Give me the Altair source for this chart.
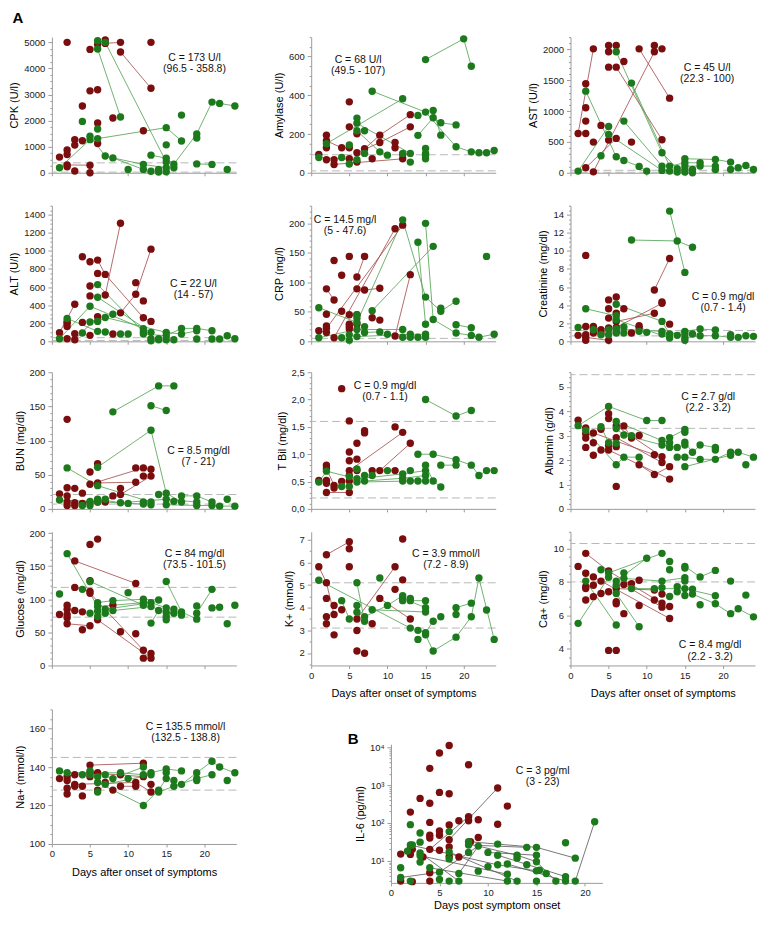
import altair as alt
import pandas as pd

# ------------------------------------------------------------------
# Values: (day, value)
# ------------------------------------------------------------------
CPK_RED = [(1,600),(2,5000),(2,870),(2,700),(2,300),(2,230),(3,1270),(3,1060),(3,70),(4,2560),(4,1230),
           (5,4730),(5,3140),(5,290),(5,0),(6,4920),(6,3180),(6,1910),(6,1120),(7,5090),(7,4960),(8,2100),
           (9,5000),(9,4630),(12,1610),(13,5000),(13,3240)]
CPK_GREEN = [(1,190),(4,1970),(5,1400),(5,1270),(6,5060),(6,4745),(6,1680),(6,1310),(7,5000),(7,640),(8,570),
             (9,2140),(10,130),(12,320),(12,130),(13,675),(13,60),(14,130),(14,30),(15,1730),(15,1070),(15,560),
             (15,410),(15,190),(15,40),(16,330),(16,190),(17,2210),(17,1220),(19,1490),(19,1335),(19,340),
             (21,2710),(21,320),(22,2660),(23,130),(24,2560)]
CPK_RED_LINES = [[(2,300),(5,290)],[(7,4960),(9,5000)],[(9,4630),(13,3240)]]
CPK_GREEN_LINES = [[(1,190),(5,1270)],[(6,5060),(7,5000),(15,410)],[(6,4745),(9,2140)],
                   [(6,1310),(15,1730),(17,1220)],[(5,1400),(7,640),(8,570),(12,130)],[(8,570),(12,320),(15,190)],
                   [(13,675),(15,560),(16,330),(19,1490),(21,2710),(22,2660),(24,2560)],[(19,340),(21,320)]]

AMY_RED = [(1,95),(2,194),(2,165),(2,129),(2,67),(3,67),(3,43),(4,129),(5,366),(5,237),(5,129),(5,72),(6,201),
           (6,103),(6,55),(7,124),(8,72),(9,194),(9,156),(11,156),(11,129),(12,95),(12,72),(13,300),(13,237)]
AMY_GREEN = [(1,79),(2,150),(4,79),(5,143),(5,45),(6,282),(6,256),(6,217),(6,67),(7,217),(7,100),(8,421),(9,108),
             (10,91),(12,382),(12,100),(13,100),(13,55),(14,296),(14,193),(15,584),(15,313),(15,125),(15,100),
             (15,91),(15,72),(16,321),(16,284),(17,258),(17,194),(19,247),(19,134),(20,691),(21,550),(21,108),
             (22,103),(23,103),(24,115)]
AMY_RED_LINES = [[(2,165),(4,129),(5,129)],[(3,43),(12,72)],[(7,124),(9,194),(13,300)],[(6,103),(9,156),(13,237)]]
AMY_GREEN_LINES = [[(2,150),(12,382)],[(8,421),(15,313),(19,134),(21,108),(22,103),(23,103),(24,115)],
                   [(15,584),(20,691),(21,550)],[(14,193),(16,284),(17,258),(19,247)],[(16,321),(17,194)],
                   [(6,256),(13,100)],[(6,217),(9,108),(10,91)],[(1,79),(6,67)]]

AST_RED = [(1,638),(2,1443),(2,1054),(2,838),(2,638),(2,81),(3,2010),(3,497),(3,15),(4,768),(5,2065),(5,1962),
           (5,1713),(5,530),(6,2065),(6,1713),(6,557),(7,1805),(8,497),(9,2010),(11,2065),(11,1962),(12,2010),
           (12,535),(13,1210)]
AST_GREEN = [(1,27),(2,1324),(4,276),(5,751),(5,622),(6,1962),(6,259),(7,838),(7,200),(8,1454),(9,103),(10,27),
             (12,324),(12,108),(12,38),(13,108),(13,27),(14,65),(14,11),(15,227),(15,162),(15,108),(15,54),(15,11),
             (16,54),(16,0),(17,162),(17,108),(19,216),(19,108),(19,54),(21,173),(21,54),(22,81),(23,119),(24,54)]
AST_RED_LINES = [[(1,638),(3,2010)],[(2,81),(6,557)],[(3,15),(11,1962)],[(6,1713),(12,535)],[(9,2010),(13,1210)]]
AST_GREEN_LINES = [[(1,27),(5,751)],[(2,1324),(6,259),(7,200),(9,103),(10,27)],[(5,622),(12,38)],
                   [(6,1962),(12,324),(14,65)],[(8,1454),(13,108),(15,162),(17,162)],[(7,838),(12,108)],
                   [(15,227),(19,216),(21,173)],[(15,108),(19,108)],[(21,54),(22,81),(23,119),(24,54)]]

ALT_RED = [(1,95),(2,220),(2,200),(2,165),(2,29),(3,410),(3,84),(3,18),(4,935),(4,209),(5,880),(5,612),(5,502),
           (5,66),(6,898),(6,751),(6,271),(7,740),(7,513),(8,81),(9,1305),(9,315),(11,649),(11,520),(12,447),
           (12,260),(13,1019),(13,220)]
ALT_GREEN = [(1,29),(2,253),(4,92),(5,388),(5,213),(6,627),(6,487),(6,220),(6,110),(7,264),(7,103),(8,300),(9,81),
             (10,81),(12,139),(12,106),(12,81),(13,99),(13,29),(13,7),(14,29),(14,18),(15,99),(15,62),(15,18),
             (16,18),(17,143),(17,81),(19,143),(19,117),(19,25),(21,117),(21,25),(22,25),(23,62),(24,29)]
ALT_RED_LINES = [[(1,95),(3,410)],[(3,18),(6,271)],[(7,513),(9,1305)],[(6,898),(7,740),(12,260),(13,220)],
                 [(9,315),(11,520),(13,1019)]]
ALT_GREEN_LINES = [[(1,29),(5,388),(12,139)],[(2,253),(6,110)],[(6,627),(12,106)],[(6,487),(13,99)],
                   [(7,264),(15,99),(17,81),(19,117)],[(12,81),(15,62),(17,143),(19,143),(21,117)],[(6,220),(8,300)]]

CRP_RED = [(1,18),(2,89),(2,46),(2,26),(2,22),(2,15),(3,137),(3,70),(3,6),(4,112),(4,51),(5,144),(5,45),(5,29),
           (5,25),(5,21),(6,109),(6,89),(6,45),(6,29),(7,144),(7,87),(8,40),(9,90),(9,36),(11,191),(11,9),
           (12,197),(13,113)]
CRP_GREEN = [(1,57),(1,6),(4,6),(5,11),(5,2),(6,45),(6,39),(6,32),(6,20),(6,8),(7,25),(7,15),(8,52),(9,16),(10,12),
             (12,206),(12,20),(12,7),(13,12),(13,7),(14,168),(14,7),(15,200),(15,75),(15,29),(15,12),(15,7),
             (16,161),(16,37),(17,56),(17,51),(19,68),(19,28),(19,14),(21,23),(21,10),(22,7),(23,144),(24,12)]
CRP_RED_LINES = [[(2,22),(12,197)],[(3,6),(11,191)],[(2,89),(3,70)],[(6,109),(7,144)],[(7,87),(9,90)],
                 [(11,9),(13,113)],[(1,18),(2,15)]]
CRP_GREEN_LINES = [[(1,57),(6,32)],[(6,32),(12,206),(15,75),(17,51),(19,68)],[(8,52),(16,161)],[(14,168),(15,29)],
                   [(15,200),(16,37),(19,14),(21,10),(22,7),(24,12)],[(19,28),(21,23)],[(1,6),(6,20),(12,20)],
                   [(6,8),(13,12),(15,12)],[(7,15),(9,16)]]

CRE_RED = [(1,0.66),(2,9.5),(2,1.65),(2,0.73),(2,0.44),(2,0.11),(3,1.65),(3,0.92),(4,1.28),(4,0.92),(5,4.58),
           (5,3.6),(5,2.57),(5,1.47),(5,0.11),(6,4.9),(6,3.1),(6,2.2),(6,1.54),(6,1.03),(7,3.6),(8,0.92),(9,1.72),
           (9,1.5),(11,5.68),(11,3.1),(12,4.36),(12,4.2),(13,9.16),(13,1.9)]
CRE_GREEN = [(1,1.54),(2,3.6),(3,1.28),(4,0.73),(5,1.28),(5,0.73),(6,4.1),(6,2.82),(6,2.38),(6,1.36),(6,0.92),
             (7,1.58),(7,0.92),(8,11.2),(9,1.1),(10,0.99),(12,2.2),(12,1.1),(12,0.81),(13,14.4),(13,0.81),(13,0.37),
             (14,11.1),(14,0.66),(15,7.62),(15,1.1),(15,0.81),(15,0.37),(15,0.11),(16,10.4),(16,0.81),(17,1.36),
             (17,0.62),(19,1.25),(19,0.62),(21,0.73),(21,0.44),(22,0.44),(23,0.62),(24,0.55)]
CRE_RED_LINES = [[(2,0.44),(5,0.11)],[(6,1.54),(12,4.2)],[(11,5.68),(13,9.16)],[(6,3.1),(7,3.6)],[(6,2.2),(11,3.1)]]
CRE_GREEN_LINES = [[(8,11.2),(14,11.1),(16,10.4)],[(13,14.4),(14,11.1),(15,7.62)],[(2,3.6),(6,2.82)],
                   [(6,4.1),(12,2.2),(13,0.81)],[(1,1.54),(6,1.36),(12,1.1)],[(6,2.38),(13,0.37)],
                   [(13,0.81),(15,1.1),(17,1.36),(19,1.25)],[(15,0.37),(17,0.62),(19,0.62),(21,0.44)],
                   [(14,0.66),(15,0.81)]]

BUN_RED = [(1,22),(2,131),(2,31),(2,19),(2,10),(2,5),(3,30),(3,9),(3,5),(4,23),(4,8),(5,54),(5,36),(5,9),(6,66),
           (6,38),(6,10),(7,10),(8,19),(9,30),(9,21),(11,60),(11,39),(12,60),(12,48),(13,58),(13,48)]
BUN_GREEN = [(1,13),(2,60),(4,5),(5,11),(5,5),(6,61),(6,34),(6,14),(6,10),(7,14),(8,142),(9,9),(10,8),(12,10),
             (12,7),(13,115),(13,10),(13,6),(13,151),(14,180),(14,21),(15,144),(15,23),(15,14),(15,6),(16,180),
             (16,11),(17,19),(17,10),(19,19),(19,10),(19,5),(21,10),(21,5),(22,4),(23,14),(24,4)]
BUN_RED_LINES = [[(5,36),(12,60)],[(6,10),(9,21),(13,48)],[(6,38),(11,39)]]
BUN_GREEN_LINES = [[(8,142),(14,180),(16,180)],[(13,151),(15,144)],[(6,61),(13,115),(15,23),(17,10)],
                   [(2,60),(6,34),(13,10)],[(1,13),(5,11),(12,7)],[(6,14),(9,9),(15,14),(19,10)],
                   [(15,6),(19,5),(21,5),(22,4),(24,4)],[(17,19),(19,19),(21,10)]]

TBIL_RED = [(1,0.52),(2,0.8),(2,0.74),(2,0.52),(2,0.47),(2,0.3),(3,0.43),(3,0.38),(4,2.2),(4,0.5),(5,1.61),
            (5,1.04),(5,0.88),(5,0.7),(5,0.61),(5,0.51),(5,0.3),(6,1.2),(6,0.91),(6,0.7),(7,1.43),(7,1.39),(8,0.7),
            (9,0.7),(11,1.5),(11,0.7),(12,1.4),(13,1.2)]
TBIL_GREEN = [(1,0.49),(2,0.69),(4,0.41),(5,0.59),(5,0.41),(6,0.73),(6,0.55),(6,0.49),(7,0.61),(7,0.51),(8,0.61),
              (10,0.7),(12,0.64),(12,0.56),(12,0.51),(13,0.7),(13,0.51),(14,1.0),(14,0.51),(15,2.0),(15,0.8),
              (15,0.7),(15,0.61),(15,0.51),(16,1.0),(16,0.51),(17,0.8),(17,0.4),(19,1.7),(19,0.9),(19,0.8),
              (21,1.8),(21,0.8),(22,0.61),(23,0.7),(24,0.7)]
TBIL_RED_LINES = [[(2,0.3),(5,0.3)],[(5,0.7),(12,1.4)],[(9,0.7),(13,1.2)],[(2,0.74),(3,0.43)]]
TBIL_GREEN_LINES = [[(15,2.0),(19,1.7),(21,1.8)],[(14,1.0),(16,1.0),(19,0.9),(21,0.8),(22,0.61),(23,0.7)],
                    [(17,0.8),(19,0.8)],[(1,0.49),(2,0.69),(6,0.55),(12,0.64),(15,0.7)],
                    [(6,0.49),(13,0.51),(15,0.51)],[(7,0.51),(12,0.56),(15,0.61)],[(15,0.8),(16,0.51),(17,0.4)]]

ALB_RED = [(1,3.63),(2,3.32),(2,3.08),(2,2.9),(2,2.52),(3,3.11),(3,2.71),(3,2.2),(4,3.26),(4,2.41),(5,3.9),(5,3.7),
           (5,2.6),(5,2.41),(6,3.4),(6,2.92),(6,2.55),(6,0.92),(7,3.4),(8,2.9),(9,3.01),(9,1.81),(11,2.22),
           (11,1.41),(12,2.14),(12,1.9),(13,1.73),(13,1.22)]
ALB_GREEN = [(1,3.41),(2,3.21),(4,3.37),(5,4.2),(5,2.71),(6,3.58),(6,3.29),(6,2.69),(6,1.81),(7,3.03),(7,2.12),
             (8,3.0),(9,2.12),(10,3.62),(12,3.62),(12,2.8),(12,2.62),(13,2.92),(13,2.71),(13,2.52),(14,2.52),
             (14,2.12),(15,3.25),(15,3.14),(15,2.73),(15,2.62),(15,2.12),(15,1.73),(16,2.32),(17,2.62),(17,2.03),
             (19,2.52),(19,2.41),(19,2.03),(21,2.32),(21,2.2),(22,2.32),(23,1.81),(24,2.12)]
ALB_RED_LINES = [[(3,3.11),(11,2.22)],[(6,3.4),(12,2.14)],[(6,2.92),(12,1.9)],[(9,1.81),(11,1.41),(13,1.73)],
                 [(5,2.41),(13,1.22)],[(7,3.4),(8,2.9)]]
ALB_GREEN_LINES = [[(1,3.41),(5,4.2),(10,3.62),(12,3.62)],[(2,3.21),(6,1.81),(7,2.12),(9,2.12)],
                   [(6,3.58),(12,2.8),(13,2.71)],[(6,3.29),(7,3.03),(12,2.62),(14,2.52)],[(13,2.92),(15,3.25)],
                   [(15,2.73),(16,2.32),(17,2.62),(19,2.52)],[(15,2.12),(17,2.03),(19,2.03),(21,2.32),(22,2.32),(24,2.12)],
                   [(15,1.73),(21,2.2)],[(4,3.37),(5,2.71)]]

GLU_RED = [(1,77),(2,91),(2,85),(2,77),(2,72),(2,63),(3,158),(3,118),(3,83),(4,81),(4,54),(5,183),(5,128),(5,112),
           (5,109),(5,60),(6,191),(6,69),(8,91),(9,51),(11,124),(11,48),(12,23),(12,11),(13,18),(13,11)]
GLU_GREEN = [(1,108),(2,169),(4,115),(5,127),(5,79),(6,95),(6,89),(6,82),(6,74),(7,85),(7,79),(8,98),(8,83),
             (10,110),(12,100),(12,95),(12,91),(13,95),(13,89),(13,64),(14,99),(14,83),(15,127),(15,87),(15,80),
             (15,74),(15,69),(16,85),(16,79),(17,81),(17,76),(19,90),(19,79),(19,70),(21,115),(21,87),(22,88),
             (23,63),(24,91)]
GLU_RED_LINES = [[(3,158),(11,124)],[(2,63),(5,60)],[(5,109),(12,23)],[(6,69),(13,11)],[(3,118),(5,112)]]
GLU_GREEN_LINES = [[(2,169),(6,89),(12,95)],[(5,127),(12,91)],[(6,95),(8,98),(12,100),(14,99)],
                   [(7,85),(13,95),(15,87)],[(8,83),(13,89),(15,80)],[(13,64),(14,83)],[(15,127),(17,81),(19,70)],
                   [(19,79),(21,115)],[(15,74),(16,85),(17,76)],[(21,87),(22,88)],[(6,74),(7,79)]]

K_RED = [(1,5.81),(2,6.34),(2,5.1),(2,4.41),(2,3.6),(2,3.29),(3,4.1),(3,3.7),(3,2.8),(4,3.91),(5,6.91),(5,6.6),
         (5,5.81),(6,3.5),(6,2.99),(6,2.09),(7,1.99),(8,3.29),(9,4.41),(11,5.81),(11,4.81),(12,7.03),(12,5.23),(13,3.5)]
K_GREEN = [(1,5.21),(4,4.31),(5,3.5),(6,5.1),(6,4.1),(6,3.8),(7,3.6),(7,3.4),(8,3.91),(9,5.31),(10,4.1),(12,4.53),
           (12,4.41),(12,4.31),(13,4.41),(13,4.31),(13,3.1),(14,3.0),(14,2.6),(15,4.31),(15,4.0),(15,3.81),(15,2.9),
           (15,2.8),(16,3.4),(16,2.09),(17,3.6),(19,4.0),(19,3.7),(19,2.7),(21,4.2),(21,3.6),(22,5.31),(23,3.9),(24,2.6)]
K_RED_LINES = [[(2,6.34),(5,6.91)],[(1,5.81),(2,5.1),(3,3.7)],[(6,3.5),(11,5.81)],[(9,4.41),(13,3.5)]]
K_GREEN_LINES = [[(1,5.21),(13,3.1)],[(6,5.1),(7,3.4)],[(7,3.6),(10,4.1),(12,4.53)],[(8,3.91),(15,3.81)],
                 [(12,4.41),(15,4.0)],[(13,4.31),(15,4.31)],[(14,3.0),(15,2.9),(16,3.4)],
                 [(15,2.8),(16,2.09),(19,2.7),(21,3.6),(22,5.31),(24,2.6)],[(19,4.0),(21,4.2)],[(4,4.31),(5,3.5)]]

CA_RED = [(1,8.93),(2,9.71),(2,8.52),(2,7.72),(2,7.6),(2,6.92),(3,8.3),(3,7.8),(3,7.12),(4,8.05),(4,7.31),(5,8.65),
          (5,7.41),(5,3.9),(6,7.6),(6,6.82),(6,6.69),(6,3.9),(7,7.84),(7,6.1),(8,7.9),(9,8.1),(9,6.59),(11,7.52),
          (11,6.92),(12,7.27),(12,6.73),(12,6.49),(13,6.53),(13,5.81)]
CA_GREEN = [(1,5.52),(2,8.05),(4,8.73),(5,8.54),(5,8.28),(6,8.05),(6,7.8),(6,7.31),(6,5.42),(7,8.54),(7,8.21),
            (8,7.6),(9,5.32),(10,9.42),(11,7.6),(12,9.71),(12,8.05),(12,7.66),(13,9.22),(13,8.73),(13,7.13),(14,7.72),
            (14,7.41),(15,8.93),(15,8.83),(15,8.25),(15,8.05),(15,7.6),(15,7.19),(16,7.56),(16,7.27),(17,8.3),
            (17,6.63),(19,8.69),(19,7.17),(19,6.69),(21,8.05),(21,6.1),(22,6.39),(23,7.21),(24,5.91)]
CA_RED_LINES = [[(2,9.71),(5,8.65),(12,6.73)],[(3,8.3),(13,5.81)],[(7,7.84),(12,6.49)],[(6,7.6),(11,7.52)]]
CA_GREEN_LINES = [[(1,5.52),(5,8.28)],[(5,8.54),(12,9.71)],[(2,8.05),(6,5.42)],[(6,7.31),(9,5.32)],
                  [(7,8.21),(12,8.05),(15,8.25)],[(8,7.6),(15,7.6),(19,7.17)],[(15,8.93),(17,8.3),(19,8.69)],
                  [(16,7.27),(19,6.69),(21,6.1),(22,6.39),(24,5.91)],[(6,8.05),(10,9.42)]]

NA_RED = [(1,134),(2,135),(2,133),(2,129),(2,126),(3,136),(3,131),(3,130),(4,130),(4,125),(5,141),(5,137),(5,135),
          (6,137),(6,128),(7,132),(8,128),(9,136),(9,130),(11,132),(11,130),(12,142),(12,135),(13,131),(13,127)]
NA_GREEN = [(1,138),(2,137),(4,136),(5,138),(5,136),(6,135),(6,132),(6,127),(7,136),(7,131),(8,134),(9,137),
            (10,134),(12,140),(12,136),(12,120),(13,137),(13,136),(14,128),(14,127),(15,139),(15,137),(15,134),
            (16,133),(16,130),(17,138),(17,131),(19,137),(19,134),(19,133),(21,143),(21,136),(22,140),(23,133),(24,137)]
NA_RED_LINES = [[(5,141),(12,142)],[(2,135),(3,136)],[(3,131),(11,132),(13,127)],[(9,130),(11,130)],[(5,137),(12,135)]]
NA_GREEN_LINES = [[(6,132),(12,120),(14,128),(15,134)],[(2,137),(9,137),(12,136),(13,137),(15,139),(17,138)],
                  [(5,138),(8,134),(12,140)],[(6,127),(7,131),(13,136)],[(14,127),(16,130),(19,134),(21,136)],
                  [(17,131),(19,137),(21,143),(22,140),(24,137)],[(1,138),(2,137)]]

IL6_RED = [(1,15),(1,2.9),(2,193),(2,20.5),(2,14.7),(2.2,20),(2.2,2.8),(3,445),(3.3,12.6),(4,2770),(4,330),(4,103),
           (4,47),(4,40),(4,20),(4,4.8),(4,2.9),(5,7050),(5,640),(5,61),(5,47),(5,19),(6,11100),(6,590),(6,88),
           (6,36),(6,23),(6,13),(7,12.6),(7,114),(8,3450),(8,146),(8,114),(8.2,32),(9,121),(9,41),(11,840),
           (11,92),(12,278)]
IL6_GREEN = [(1,6.5),(1,3.6),(1.7,18),(2,90),(2,26),(2,2.9),(2.2,26),(3,54),(3,31),(3,16),(3,13.6),(3,9.2),
             (4,6.5),(5,5),(5,3.2),(6,59),(6,17),(6,11.2),(6,2.9),(7,4.6),(7,2.9),(8,32),(8,26),(8,16.6),(9,24.4),
             (9,5.3),(10,16.6),(10,7),(11,27.5),(11,14),(11,7.8),(12,8.2),(12,4.4),(12,2.9),(13,14),(13,11.7),
             (13,2.9),(14,22.6),(14,7.8),(15,22.6),(15,14),(15,9.4),(15,5.4),(15,2.9),(15.3,5.6),(16,4.6),(17,2.9),
             (18,30),(18,3.8),(18,2.9),(19,11.7),(19,2.9),(21,107)]
IL6_LINES = [[(4,20),(8,146)],[(6,36),(11,840)],[(3,16),(7,2.9)],[(3,13.6),(12,4.4)],
             [(1,3.6),(5,5),(9,24.4),(13,14),(15,9.4),(17,2.9)],[(8,32),(11,27.5),(15,22.6),(19,11.7)],
             [(2,26),(11,7.8),(15,5.4)],[(7,4.6),(9,24.4)],[(6,17),(13,2.9)],[(11,14),(18,3.8)],
             [(12,8.2),(18,2.9)],[(19,2.9),(21,107)],[(4,6.5),(12,2.9)],[(8,26),(14,22.6)],[(10,16.6),(15,14)]]

# reference (dashed) limits
REFS = {"cpk": [380, 25], "amy": [93, 10], "ast": [40, 8], "alt": [40, 10], "crp": [5],
        "cre": [1.2, 0.6], "bun": [21, 7], "tbil": [1.6, 0.2], "alb": [5.5, 3.3], "glu": [118, 73],
        "k": [5.1, 3.1], "ca": [10.3, 8.0], "na": [145, 128]}

# annotation texts
ANN = {"cpk": "C = 173 U/l\n(96.5 - 358.8)", "amy": "C = 68 U/l\n(49.5 - 107)", "ast": "C = 45 U/l\n(22.3 - 100)",
       "alt": "C = 22 U/l\n(14 - 57)", "crp": "C = 14.5 mg/l\n(5 - 47.6)", "cre": "C = 0.9 mg/dl\n(0.7 - 1.4)",
       "bun": "C = 8.5 mg/dl\n(7 - 21)", "tbil": "C = 0.9 mg/dl\n(0.7 - 1.1)", "alb": "C = 2.7 g/dl\n(2.2 - 3.2)",
       "glu": "C = 84 mg/dl\n(73.5 - 101.5)", "k": "C = 3.9 mmol/l\n(7.2 - 8.9)", "ca": "C = 8.4 mg/dl\n(2.2 - 3.2)",
       "na": "C = 135.5 mmol/l\n(132.5 - 138.8)", "il6": "C = 3 pg/ml\n(3 - 23)"}

# ------------------------------------------------------------------
FONT = "Liberation Sans"
RED, GREEN = "#7a0e0e", "#1c7a1c"
RED_LINE, GREEN_LINE, GREY_LINE = "#a24848", "#4d9f4d", "#555555"
REFC, AXC, LABC = "#b8b8b8", "#9c9c9c", "#222222"
W = 185
XDOM = [0, 24.2]
CSCALE = alt.Scale(domain=["r", "g", "rl", "gl", "kl"], range=[RED, GREEN, RED_LINE, GREEN_LINE, GREY_LINE])


def frames(red, green, rlines, glines, klines):
    pts = pd.DataFrame([{"day": d, "val": v, "grp": "r"} for d, v in red] +
                       [{"day": d, "val": v, "grp": "g"} for d, v in green])
    rows, lid = [], 0
    for grp, L in (("rl", rlines), ("gl", glines), ("kl", klines)):
        for line in L:
            for i, (d, v) in enumerate(line):
                rows.append({"day": d, "val": v, "grp": grp, "lid": lid, "o": i})
            lid += 1
    return pts, pd.DataFrame(rows)


def yaxis(p):
    lo, hi = p["dom"]
    if p.get("log"):
        vals = [m * 10 ** e for e in range(0, 5) for m in range(1, 10) if lo <= m * 10 ** e <= hi]
        test = "datum.value == 10 || datum.value == 100 || datum.value == 1000 || datum.value == 10000"
        lab = ("datum.value == 10 ? '10\u00b9' : datum.value == 100 ? '10\u00b2' : "
               "datum.value == 1000 ? '10\u00b3' : datum.value == 10000 ? '10\u2074' : ''")
    else:
        mj, mn = p["major"], p["minor"]
        start = mn * int(-(-lo // mn))
        vals = []
        v = start
        while v <= hi + 1e-9:
            vals.append(round(v, 6))
            v += mn
        test = f"abs(datum.value/{mj} - round(datum.value/{mj})) < 1e-6"
        fmt = p.get("fmt", "format(datum.value, 'd')")
        lab = f"{test} ? {fmt} : ''"
    kw = dict(values=vals, title=p["title"], labelExpr=lab,
              tickSize={"condition": {"test": test, "value": 4}, "value": 2},
              labelOverlap=False, labelPadding=3, labelFontSize=9.5, labelColor=LABC,
              domainColor=AXC, tickColor=AXC, titleFontSize=11, titleFontWeight="normal",
              titleColor="#000000", titlePadding=4, grid=False)
    if "yoff" in p:
        kw["offset"] = p["yoff"]
    return alt.Axis(**kw)


def xaxis(p):
    kw = dict(values=[0, 5, 10, 15, 20], tickSize=3, labelFlush=False, labelOverlap=False, labelPadding=2,
              labelFontSize=9.5, labelColor=LABC, domainColor=AXC, tickColor=AXC, titleFontSize=11,
              titleFontWeight="normal", titleColor="#000000", grid=False)
    if p.get("xtitle"):
        kw.update(title=p["xtitle"], labels=True, titlePadding=p.get("xtpad", 8))
    else:
        kw.update(title=None, labels=False)
    if "xoff" in p:
        kw["offset"] = p["xoff"]
    return alt.Axis(**kw)


def panel(p):
    pts, lines = frames(p["red"], p["green"], p["rl"], p["gl"], p.get("kl", []))
    xs_kw = dict(domain=p.get("xdom", XDOM), nice=False, zero=False)
    if "xrange" in p:
        xs_kw["range"] = p["xrange"]
    xs = alt.Scale(**xs_kw)
    ys_kw = dict(domain=p["dom"], range=p["yrange"], nice=False, zero=False)
    if p.get("log"):
        ys_kw["type"] = "log"
    ys = alt.Scale(**ys_kw)
    xa, ya = xaxis(p), yaxis(p)
    X = alt.X("day:Q", scale=xs, axis=xa)
    Y = alt.Y("val:Q", scale=ys, axis=ya)
    layers = []
    if p.get("refs"):
        layers.append(alt.Chart(pd.DataFrame({"val": p["refs"]})).mark_rule(
            color=REFC, strokeDash=[8, 4], strokeWidth=1).encode(y=Y))
    if len(lines):
        layers.append(alt.Chart(lines).mark_line(strokeWidth=0.8).encode(
            x=X, y=Y, detail="lid:N", order="o:Q",
            color=alt.Color("grp:N", scale=CSCALE, legend=None)))
    layers.append(alt.Chart(pts).mark_circle(size=55, opacity=1).encode(
        x=X, y=Y, color=alt.Color("grp:N", scale=CSCALE, legend=None)))
    # annotation (position relative to the plot area)
    px0 = p["xrange"][0] if "xrange" in p else 0
    py0 = p["yrange"][1]
    ax, ay = p["annpos"]
    layers.append(alt.Chart(pd.DataFrame({"t": [p["ann"]]})).mark_text(
        lineBreak="\n", fontSize=10.5, font=FONT, color="#111111", align="center", baseline="middle",
        lineHeight=11.5).encode(text="t:N", x=alt.value(px0 + ax), y=alt.value(py0 + ay)))
    if p.get("letter"):
        lx, ly, s = p["letter"]
        layers.append(alt.Chart(pd.DataFrame({"t": [s]})).mark_text(
            fontSize=15, fontWeight="bold", font=FONT, color="#000000", align="center", baseline="middle"
        ).encode(text="t:N", x=alt.value(px0 + lx), y=alt.value(py0 + ly)))
    return alt.layer(*layers).properties(width=W, height=p["h"])


R1 = dict(h=136, yrange=[136, 0])
R2 = dict(h=138, yrange=[138, 2])
R3 = dict(h=137, yrange=[137, 0])
R4 = dict(h=126, yrange=[126, -8])

PANELS = [
    dict(R1, title="CPK (U/l)", red=CPK_RED, green=CPK_GREEN, rl=CPK_RED_LINES, gl=CPK_GREEN_LINES,
         dom=[0, 5200], major=1000, minor=250, refs=REFS["cpk"], ann=ANN["cpk"], annpos=(143, 20.5),
         letter=(-34, -19, "A")),
    dict(R1, title="Amylase (U/l)", red=AMY_RED, green=AMY_GREEN, rl=AMY_RED_LINES, gl=AMY_GREEN_LINES,
         dom=[0, 700], major=200, minor=50, refs=REFS["amy"], ann=ANN["amy"], annpos=(47, 22.5)),
    dict(R1, title="AST (U/l)", red=AST_RED, green=AST_GREEN, rl=AST_RED_LINES, gl=AST_GREEN_LINES,
         dom=[0, 2200], major=500, minor=100, refs=REFS["ast"], ann=ANN["ast"], annpos=(137, 30.5)),
    dict(R2, title="ALT (U/l)", red=ALT_RED, green=ALT_GREEN, rl=ALT_RED_LINES, gl=ALT_GREEN_LINES,
         dom=[0, 1500], major=200, minor=50, refs=REFS["alt"], ann=ANN["alt"], annpos=(142, 78.5)),
    dict(R2, title="CRP (mg/l)", red=CRP_RED, green=CRP_GREEN, rl=CRP_RED_LINES, gl=CRP_GREEN_LINES,
         dom=[0, 230], major=50, minor=10, refs=REFS["crp"], ann=ANN["crp"], annpos=(34, 14)),
    dict(R2, title="Creatinine (mg/dl)", red=CRE_RED, green=CRE_GREEN, rl=CRE_RED_LINES, gl=CRE_GREEN_LINES,
         dom=[0, 15], major=2, minor=0.5, refs=REFS["cre"], ann=ANN["cre"], annpos=(153, 91.5)),
    dict(R3, title="BUN (mg/dl)", red=BUN_RED, green=BUN_GREEN, rl=BUN_RED_LINES, gl=BUN_GREEN_LINES,
         dom=[0, 200], major=50, minor=10, refs=REFS["bun"], ann=ANN["bun"], annpos=(147, 78.5)),
    dict(R3, title="T Bil (mg/dl)", red=TBIL_RED, green=TBIL_GREEN, rl=TBIL_RED_LINES, gl=TBIL_GREEN_LINES,
         dom=[0, 2.5], major=0.5, minor=0.1, fmt="replace(format(datum.value, '.1f'), '.', ',')",
         refs=REFS["tbil"], ann=ANN["tbil"], annpos=(74, 13.5)),
    dict(R3, title="Albumin (g/dl)", red=ALB_RED, green=ALB_GREEN, rl=ALB_RED_LINES, gl=ALB_GREEN_LINES,
         dom=[0, 5.6], major=1, minor=0.2, refs=REFS["alb"], ann=ANN["alb"], annpos=(138, 24.5)),
    dict(R4, title="Glucose (mg/dl)", red=GLU_RED, green=GLU_GREEN, rl=GLU_RED_LINES, gl=GLU_GREEN_LINES,
         dom=[0, 202], major=50, minor=10, refs=REFS["glu"], ann=ANN["glu"], annpos=(143, 22)),
    dict(R4, title="K+ (mmol/l)", red=K_RED, green=K_GREEN, rl=K_RED_LINES, gl=K_GREEN_LINES,
         dom=[1.45, 7.35], major=1, minor=0.5, refs=REFS["k"], ann=ANN["k"], annpos=(135, 22),
         xtitle="Days after onset of symptoms"),
    dict(R4, title="Ca+ (mg/dl)", red=CA_RED, green=CA_GREEN, rl=CA_RED_LINES, gl=CA_GREEN_LINES,
         dom=[3, 11], major=2, minor=0.5, refs=REFS["ca"], ann=ANN["ca"], annpos=(140, 114),
         xtitle="Days after onset of symptoms"),
    dict(h=148, yrange=[148, 13], title="Na+ (mmol/l)", red=NA_RED, green=NA_GREEN, rl=NA_RED_LINES,
         gl=NA_GREEN_LINES, dom=[100, 170], major=20, minor=5, refs=REFS["na"], ann=ANN["na"],
         annpos=(134, 17.5), xtitle="Days after onset of symptoms"),
    dict(h=148, yrange=[187, 48], xrange=[80, 292], xdom=[0, 21.8], log=True, yoff=-80, xoff=39,
         title="IL-6 (pg/ml)", red=IL6_RED, green=IL6_GREEN, rl=[], gl=[], kl=IL6_LINES, dom=[2.6, 12000],
         refs=[], ann=ANN["il6"], annpos=(152, 26.5), xtitle="Days post symptom onset", xtpad=2,
         letter=(-38, -5, "B")),
]

charts = [panel(p) for p in PANELS]

chart = alt.concat(*charts, columns=3, spacing={"row": 31, "column": 75}, bounds="flush", align="each").properties(
    padding={"left": 0, "top": 2, "right": 0, "bottom": 0}
).configure(font=FONT).configure_view(stroke="transparent", strokeWidth=0).configure_axis(
    labelFont=FONT, titleFont=FONT)

chart.save("out.html", embed_options={"renderer": "svg", "actions": False})
